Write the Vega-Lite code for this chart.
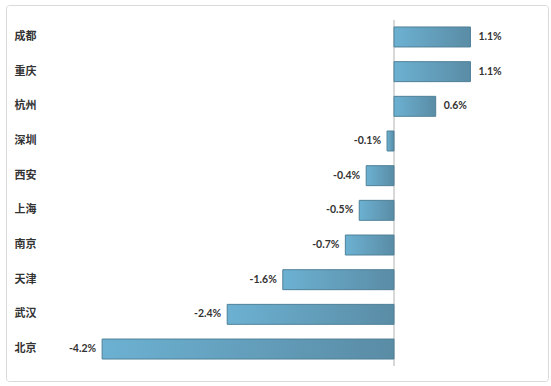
{
  "$schema": "https://vega.github.io/schema/vega-lite/v6.json",
  "width": 542,
  "height": 376,
  "autosize": {"type": "none"},
  "padding": {"left": 6, "top": 5, "right": 3, "bottom": 5},
  "background": "#ffffff",
  "config": {
    "view": {"stroke": "#D9D9D9", "strokeWidth": 1, "cornerRadius": 3},
    "locale": {"number": {"decimal": ".", "thousands": ",", "grouping": [3], "currency": ["$", ""], "minus": "-"}}
  },
  "data": {
    "values": [
      {"city": "成都", "v": 0.011},
      {"city": "重庆", "v": 0.011},
      {"city": "杭州", "v": 0.006},
      {"city": "深圳", "v": -0.001},
      {"city": "西安", "v": -0.004},
      {"city": "上海", "v": -0.005},
      {"city": "南京", "v": -0.007},
      {"city": "天津", "v": -0.016},
      {"city": "武汉", "v": -0.024},
      {"city": "北京", "v": -0.042}
    ]
  },
  "encoding": {
    "y": {
      "field": "city",
      "type": "nominal",
      "sort": null,
      "scale": {
        "domain": ["成都", "重庆", "杭州", "深圳", "西安", "上海", "南京", "天津", "武汉", "北京"],
        "paddingInner": 0.424,
        "paddingOuter": 0.634
      },
      "axis": {
        "title": null,
        "orient": "left",
        "domain": false,
        "ticks": false,
        "tickSize": 0,
        "labelAlign": "left",
        "labelPadding": -8,
        "labelFont": "Noto Sans CJK SC",
        "labelFontWeight": "bold",
        "labelFontSize": 11,
        "labelColor": "#333333"
      }
    },
    "x": {
      "field": "v",
      "type": "quantitative",
      "scale": {"domain": [-0.05583, 0.02216], "nice": false, "zero": false},
      "axis": null
    }
  },
  "layer": [
    {
      "mark": {"type": "rule", "color": "#D9D9D9", "strokeWidth": 1},
      "encoding": {
        "x": {"datum": 0, "type": "quantitative"},
        "y": {"datum": "成都", "bandPosition": -0.35},
        "y2": {"datum": "北京", "bandPosition": 1.35}
      }
    },
    {
      "mark": {
        "type": "bar",
        "stroke": "#4F8198",
        "strokeWidth": 1,
        "color": {
          "gradient": "linear",
          "x1": 0, "x2": 1, "y1": 0, "y2": 0,
          "stops": [
            {"offset": 0, "color": "#6CB1D2"},
            {"offset": 1, "color": "#5A8CA5"}
          ]
        }
      }
    },
    {
      "transform": [{"filter": "datum.v >= 0"}],
      "mark": {"type": "text", "align": "left", "dx": 8, "font": "Lato", "fontWeight": "bold", "fontSize": 10.5, "color": "#333333"},
      "encoding": {"text": {"field": "v", "type": "quantitative", "format": ".1%"}}
    },
    {
      "transform": [{"filter": "datum.v < 0"}],
      "mark": {"type": "text", "align": "right", "dx": -6, "font": "Lato", "fontWeight": "bold", "fontSize": 10.5, "color": "#333333"},
      "encoding": {"text": {"field": "v", "type": "quantitative", "format": ".1%"}}
    }
  ]
}
